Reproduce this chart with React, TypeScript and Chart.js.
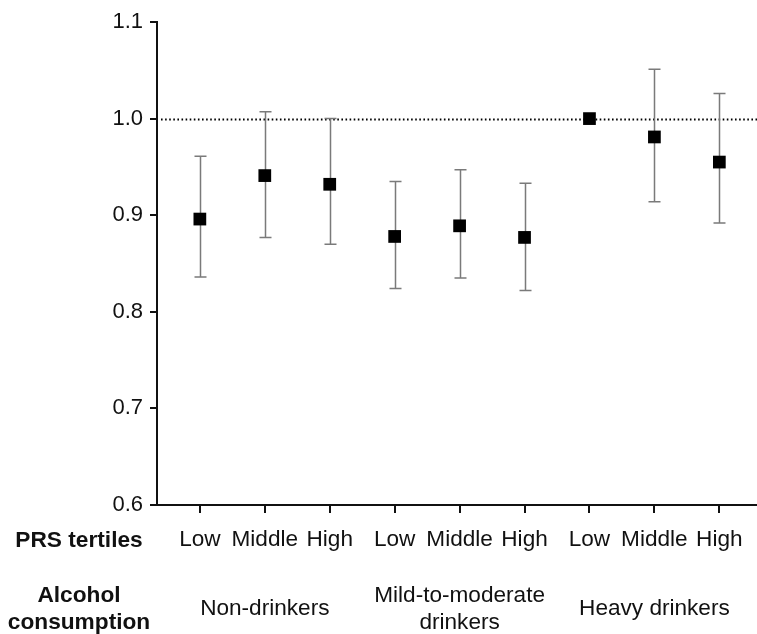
import React, { useEffect, useRef } from "react";
import { Chart, registerables } from "chart.js";

Chart.register(...registerables);

const tertiles = ["Low", "Middle", "High", "Low", "Middle", "High", "Low", "Middle", "High"];
const groupLabels = [["Non-drinkers"], ["Mild-to-moderate", "drinkers"], ["Heavy drinkers"]];
const groupCenters = [1, 4, 7];
const estimates = [0.896, 0.941, 0.932, 0.878, 0.889, 0.877, 1.0, 0.981, 0.955];
const lower = [0.836, 0.877, 0.870, 0.824, 0.835, 0.822, 1.0, 0.914, 0.892];
const upper = [0.961, 1.007, 1.0, 0.935, 0.947, 0.933, 1.0, 1.051, 1.026];
const yTicks = [0.6, 0.7, 0.8, 0.9, 1.0, 1.1];
const referenceValue = 1.0;
const rowTitle1 = ["PRS tertiles"];
const rowTitle2 = ["Alcohol", "consumption"];

const FONT = "'Liberation Sans', Arial, Helvetica, sans-serif";
const TEXT = "#111";

const annotationPlugin = {
  id: "annotations",
  beforeDatasetsDraw(chart: any) {
    const { ctx, chartArea, scales } = chart;
    const x = scales.x;
    const y = scales.y;
    ctx.save();
    // dotted reference line
    const yr = Math.round(y.getPixelForValue(referenceValue)) + 0.5;
    ctx.strokeStyle = "#000";
    ctx.lineWidth = 1.8;
    ctx.setLineDash([1.6, 2.5]);
    ctx.beginPath();
    ctx.moveTo(chartArea.left + 4, yr);
    ctx.lineTo(chartArea.right, yr);
    ctx.stroke();
    ctx.setLineDash([]);
    // error bars
    ctx.strokeStyle = "#7a7a7a";
    ctx.lineWidth = 1.5;
    estimates.forEach((_, i) => {
      if (upper[i] === lower[i]) return;
      const px = Math.round(x.getPixelForValue(i)) + 0.5;
      const yl = y.getPixelForValue(lower[i]);
      const yu = y.getPixelForValue(upper[i]);
      ctx.beginPath();
      ctx.moveTo(px, yu);
      ctx.lineTo(px, yl);
      ctx.moveTo(px - 6, yu);
      ctx.lineTo(px + 6, yu);
      ctx.moveTo(px - 6, yl);
      ctx.lineTo(px + 6, yl);
      ctx.stroke();
    });
    ctx.restore();
  },
  afterDraw(chart: any) {
    const { ctx, chartArea, scales } = chart;
    const x = scales.x;
    const b = chartArea.bottom;
    ctx.save();
    ctx.fillStyle = TEXT;
    ctx.textAlign = "center";
    ctx.textBaseline = "alphabetic";
    ctx.font = `bold 22.7px ${FONT}`;
    const titleX = 79;
    rowTitle1.forEach((t, i) => ctx.fillText(t, titleX, b + 42 + i * 26.5));
    rowTitle2.forEach((t, i) => ctx.fillText(t, titleX, b + 97 + i * 26.5));
    ctx.font = `22.6px ${FONT}`;
    groupLabels.forEach((lines, g) => {
      const cx = x.getPixelForValue(groupCenters[g]);
      if (lines.length === 1) {
        ctx.fillText(lines[0], cx, b + 110);
      } else {
        lines.forEach((t, i) => ctx.fillText(t, cx, b + 97 + i * 26.5));
      }
    });
    ctx.restore();
  },
};

export default function App() {
  const ref = useRef<HTMLCanvasElement | null>(null);
  useEffect(() => {
    if (!ref.current) return;
    const chart = new Chart(ref.current, {
      type: "scatter",
      data: {
        datasets: [
          {
            data: estimates.map((v, i) => ({ x: i, y: v })),
            pointStyle: "rect",
            pointRadius: 9,
            pointHoverRadius: 9,
            backgroundColor: "#000",
            borderWidth: 0,
            clip: false,
          },
        ],
      },
      options: {
        animation: false,
        responsive: false,
        maintainAspectRatio: false,
        layout: { autoPadding: false, padding: { top: 22, left: 0, right: 0, bottom: 0 } },
        plugins: { legend: { display: false }, tooltip: { enabled: false } },
        scales: {
          x: {
            type: "linear",
            min: -0.66,
            max: 8.58,
            afterBuildTicks: (s: any) => {
              s.ticks = tertiles.map((_, i) => ({ value: i }));
            },
            afterFit: (s: any) => {
              s.height = 129;
              s.paddingLeft = 0;
              s.paddingRight = 0;
            },
            ticks: {
              callback: (v: any) => tertiles[Number(v)] ?? "",
              color: TEXT,
              font: { family: FONT, size: 22.6 },
              padding: 13,
              maxRotation: 0,
              autoSkip: false,
            },
            grid: {
              drawOnChartArea: false,
              drawTicks: true,
              tickLength: 8,
              color: "#111",
              lineWidth: 2,
            },
            border: { display: true, color: "#111", width: 2 },
          },
          y: {
            min: 0.6,
            max: 1.1,
            afterBuildTicks: (s: any) => {
              s.ticks = yTicks.map((v) => ({ value: v }));
            },
            afterFit: (s: any) => {
              s.width = 157;
            },
            ticks: {
              callback: (v: any) => Number(v).toFixed(1),
              color: TEXT,
              font: { family: FONT, size: 22 },
              padding: 7,
            },
            grid: {
              drawOnChartArea: false,
              drawTicks: true,
              tickLength: 7,
              color: "#111",
              lineWidth: 2,
            },
            border: { display: true, color: "#111", width: 2 },
          },
        },
      },
      plugins: [annotationPlugin],
    });
    return () => chart.destroy();
  }, []);
  return (
    <div style={{ position: "fixed", left: 0, top: 0, width: 757, height: 634, background: "#fff" }}>
      <canvas ref={ref} width={757} height={634} style={{ width: 757, height: 634, display: "block" }} />
    </div>
  );
}
